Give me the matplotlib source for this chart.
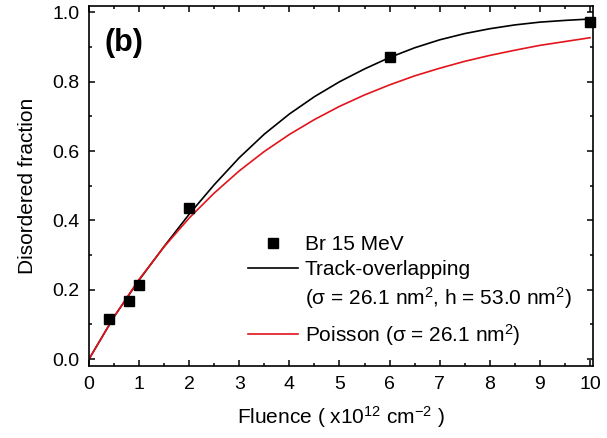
import matplotlib
matplotlib.use('Agg')
import matplotlib.pyplot as plt
from matplotlib.lines import Line2D
from matplotlib.ticker import MultipleLocator

plt.rcParams['font.family'] = ['Liberation Sans', 'DejaVu Sans']
plt.rcParams['mathtext.fontset'] = 'custom'
plt.rcParams['mathtext.rm'] = 'Liberation Sans'
plt.rcParams['mathtext.it'] = 'Liberation Sans:italic'
plt.rcParams['mathtext.bf'] = 'Liberation Sans:bold'

# measured points (Br 15 MeV)
fluence = [0.4, 0.8, 1.0, 2.0, 6.0, 10.0]
fraction = [0.117, 0.167, 0.213, 0.437, 0.871, 0.972]

# model curves
curve_x = [0, 0.5, 1.0, 1.5, 2.0, 2.5, 3.0, 3.5, 4.0, 4.5, 5.0,
           5.5, 6.0, 6.5, 7.0, 7.5, 8.0, 8.5, 9.0, 9.5, 10.0]
track_y = [0.0, 0.122, 0.228, 0.325, 0.418, 0.503, 0.581, 0.649, 0.707, 0.757, 0.800,
           0.837, 0.870, 0.898, 0.921, 0.939, 0.953, 0.964, 0.972, 0.977, 0.981]
poisson_y = [0.0, 0.122, 0.230, 0.324, 0.407, 0.479, 0.543, 0.599, 0.648, 0.691, 0.729,
             0.762, 0.791, 0.817, 0.839, 0.859, 0.876, 0.891, 0.905, 0.916, 0.927]

red = '#e3141c'

fig = plt.figure(figsize=(6.07, 4.38), dpi=100)
ax = fig.add_axes([89 / 607, 1 - 366 / 438, (593 - 89) / 607, (366 - 5.5) / 438])

ax.plot(curve_x, track_y, color='black', lw=1.2)
ax.plot(curve_x, poisson_y, color=red, lw=1.2)
ax.plot(fluence, fraction, 's', color='black', ms=6.5, clip_on=False, zorder=3)

ax.set_xlim(0, 10.06)
ax.set_ylim(-0.02, 1.02)
ax.xaxis.set_major_locator(MultipleLocator(1))
ax.xaxis.set_minor_locator(MultipleLocator(0.5))
ax.yaxis.set_major_locator(MultipleLocator(0.2))
ax.yaxis.set_minor_locator(MultipleLocator(0.1))
ax.set_yticks([0.0, 0.2, 0.4, 0.6, 0.8, 1.0])
ax.set_yticklabels(['0.0', '0.2', '0.4', '0.6', '0.8', '1.0'])
ax.tick_params(which='both', direction='in', top=True, right=True, width=1.1,
               labelsize=14, pad=7)
ax.tick_params(which='major', length=4.5)
ax.tick_params(which='minor', length=2.5)
for s in ax.spines.values():
    s.set_linewidth(1.2)

ax.set_xlabel('Fluence ( x10$^{12}$ cm$^{-2}$ )', fontsize=15, labelpad=8)
ax.set_ylabel('Disordered fraction', fontsize=15, labelpad=11)

ax.text(0.70, 0.913, '(b)', fontsize=22, fontweight='bold', ha='center', va='center')

leg_opts = dict(loc='upper left', bbox_transform=ax.transData, frameon=False,
                fontsize=15, handlelength=2.4, handletextpad=0.3,
                labelspacing=0.3, borderpad=0, borderaxespad=0)

handles = [Line2D([], [], marker='s', ls='none', color='black', ms=6.5),
           Line2D([], [], color='black', lw=1.2),
           Line2D([], [], ls='none')]
labels = ['Br 15 MeV', 'Track-overlapping', '(σ = 26.1 nm$^2$, h = 53.0 nm$^2$)']
leg1 = ax.legend(handles, labels, bbox_to_anchor=(3.18, 0.358), **leg_opts)
ax.add_artist(leg1)

ax.legend([Line2D([], [], color=red, lw=1.2)], ['Poisson (σ = 26.1 nm$^2$)'],
          bbox_to_anchor=(3.18, 0.108), **leg_opts)

fig.savefig('out.png', dpi=100)
